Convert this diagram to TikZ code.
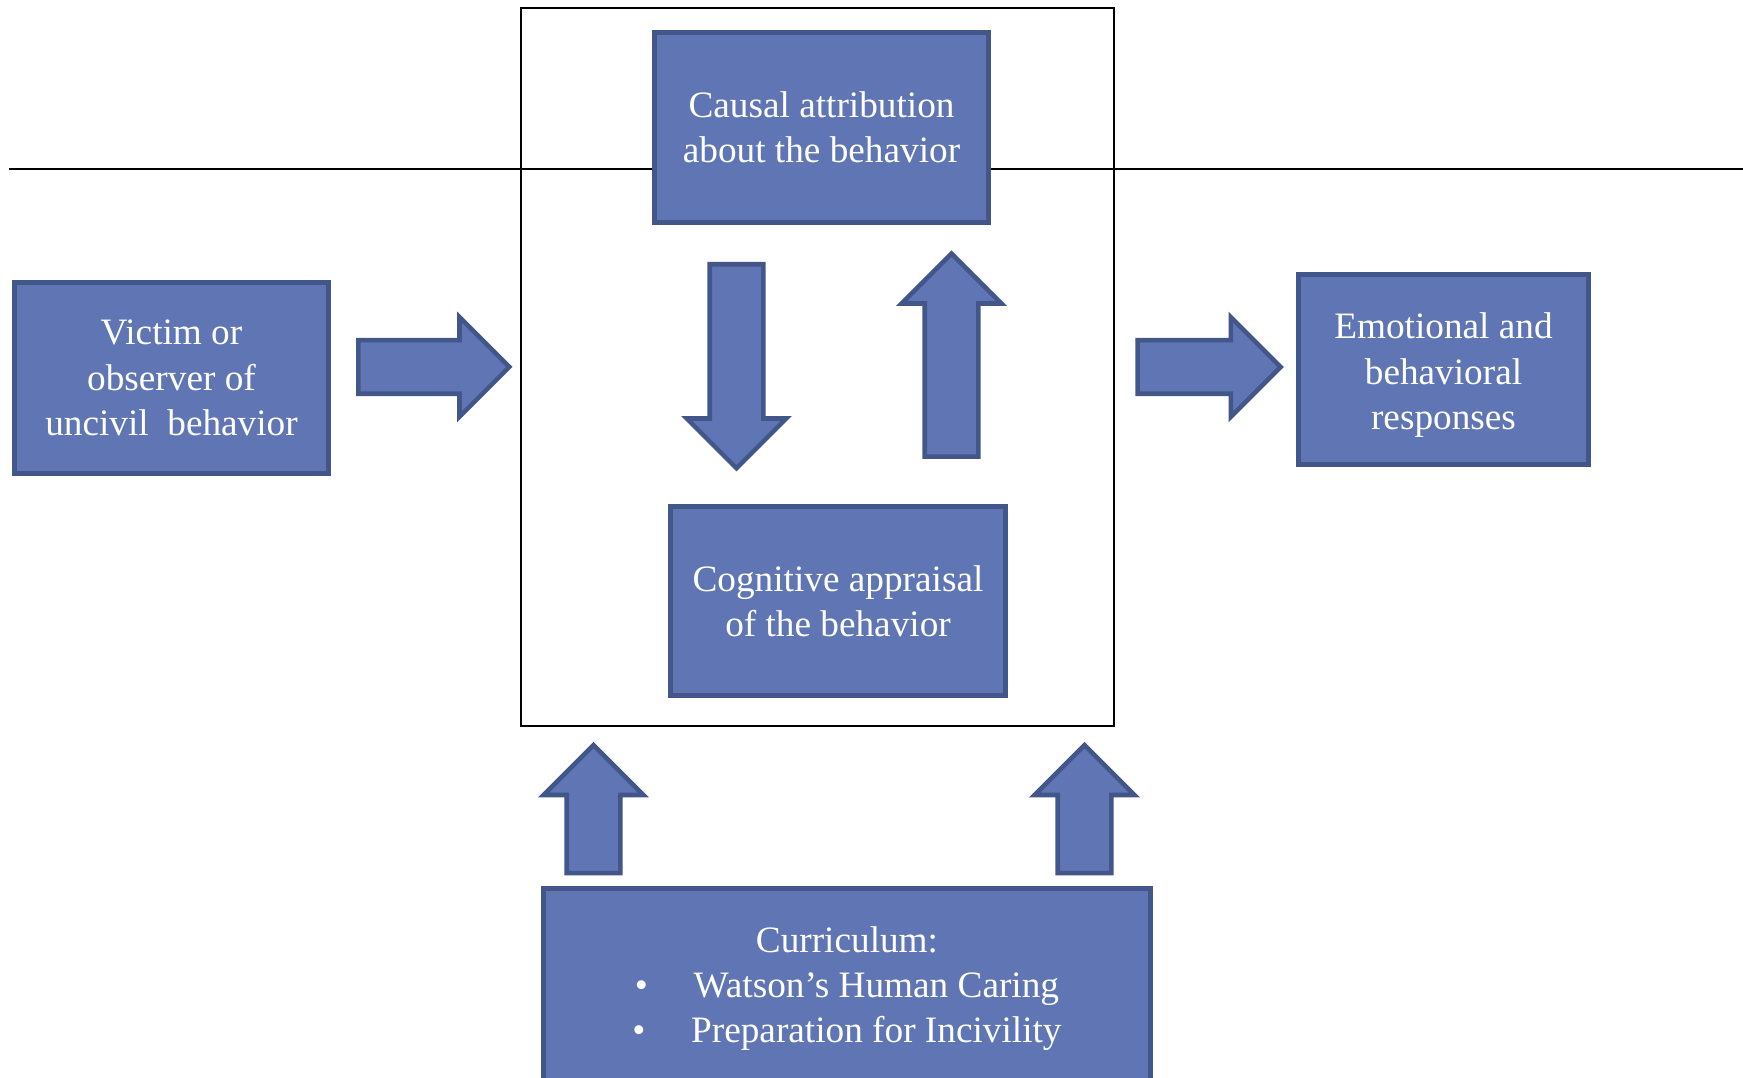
\documentclass[tikz,border=0pt]{standalone}
\usepackage{fontspec}
\setmainfont{Liberation Serif}
\usetikzlibrary{shapes.arrows}
\definecolor{boxfill}{HTML}{6076B4}
\definecolor{boxline}{HTML}{43568A}
\begin{document}
\begin{tikzpicture}[
  box/.style={draw=boxline, fill=boxfill, line width=1.3pt, text=white, align=center,
    inner sep=0pt, font=\fontsize{10.6}{12.9}\selectfont},
  blockarrow/.style={single arrow, draw=boxline, fill=boxfill, line width=1.3pt,
    inner xsep=0pt, inner ysep=0.245cm, single arrow head extend=0.23cm, anchor=tail}
]
\useasboundingbox (0,0) rectangle (17.43,10.78);
%\draw[step=1cm,gray,very thin] (0,0) grid (17.43,10.78); %background grid
\draw[line width=0.6pt] (0.09,9.09) -- (17.43,9.09);
\draw[line width=0.6pt] (5.21,3.52) rectangle (11.14,10.70);
% boxes
\node[box, minimum width=3.34cm, minimum height=1.90cm] (causal) at (8.215,9.505) {Causal attribution\\about the behavior};
\node[box, minimum width=3.14cm, minimum height=1.91cm] (victim) at (1.715,7.00) {Victim or\\observer of\\uncivil~ behavior};
\node[box, minimum width=2.90cm, minimum height=1.90cm] (responses) at (14.435,7.085) {\raisebox{-0.056cm}[\height][\depth]{\parbox{2.9cm}{\centering Emotional and\\behavioral\\responses}}};
\node[box, minimum width=3.35cm, minimum height=1.89cm] (appraisal) at (8.38,4.77) {Cognitive appraisal\\of the behavior};
\node[box, minimum width=6.07cm, minimum height=2.00cm] (curriculum) at (8.47,0.895) {Curriculum:\\\textbullet\hspace{13pt}Watson’s Human Caring\\\textbullet\hspace{13pt}Preparation for Incivility};
% arrows
\node[blockarrow, minimum height=1.51cm] (toframe) at (3.56,7.11) {};
\node[blockarrow, minimum height=1.43cm] (toresponses) at (11.353,7.11) {};
\node[blockarrow, minimum height=2.04cm, rotate=-90] (toappraisal) at (7.365,8.16) {};
\node[blockarrow, minimum height=2.03cm, rotate=90] (tocausal) at (9.515,6.19) {};
\node[blockarrow, minimum height=1.28cm, rotate=90] (leftinput) at (5.935,2.025) {};
\node[blockarrow, minimum height=1.28cm, rotate=90] (rightinput) at (10.845,2.025) {};
\end{tikzpicture}
\end{document}
